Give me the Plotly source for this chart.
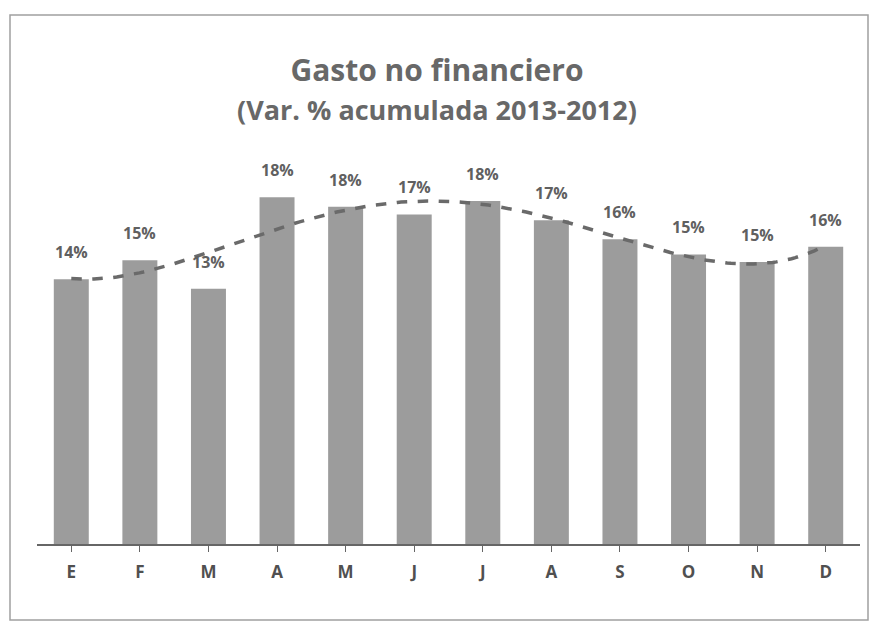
import numpy as np
import plotly.graph_objects as go

# Monthly accumulated variation (%)
months = ["E", "F", "M", "A", "M", "J", "J", "A", "S", "O", "N", "D"]
values = [13.9, 14.9, 13.4, 18.2, 17.7, 17.3, 18.0, 17.0, 16.0, 15.2, 14.8, 15.6]
labels = ["14%", "15%", "13%", "18%", "18%", "17%", "18%", "17%", "16%", "15%", "15%", "16%"]

W, H = 874, 629
L, R, T, B = 37, 14, 163, 85

x = np.arange(len(months))

# polynomial trend line (like Excel's trendline)
coef = np.polyfit(x, values, 4)
xs = np.linspace(0, len(months) - 1, 200)
trend = np.polyval(coef, xs)

fig = go.Figure()
fig.add_trace(go.Bar(
    x=x, y=values,
    marker=dict(color="#9c9c9c", line=dict(width=0)),
    width=0.51,
))
fig.add_trace(go.Scatter(
    x=xs, y=trend, mode="lines",
    line=dict(color="#6a6a6a", width=3.5, dash="dash"),
    hoverinfo="skip",
))

# data labels above the bars
for xi, v, t in zip(x, values, labels):
    fig.add_annotation(x=xi, y=v, text="<b>%s</b>" % t, showarrow=False,
                       yanchor="middle", yshift=27,
                       font=dict(family="Open Sans", size=16, color="#606060"))

# chart border, converted from pixels to paper coordinates
pw, ph = W - L - R, H - T - B
def px(v): return (v - L) / pw
def py(v): return (H - B - v) / ph
fig.add_shape(type="rect", xref="paper", yref="paper",
              x0=px(10), x1=px(868), y0=py(620), y1=py(15),
              line=dict(color="#a0a0a0", width=1.5))

fig.update_layout(
    width=W, height=H,
    margin=dict(l=L, r=R, t=T, b=B),
    paper_bgcolor="white", plot_bgcolor="white",
    showlegend=False,
    font=dict(family="Open Sans", color="#555555"),
    title=dict(
        text="<b>Gasto no financiero</b><br><b><span style='font-size:27px'>(Var. % acumulada 2013-2012)</span></b>",
        x=0.5, xanchor="center", y=0.872, yanchor="top",
        font=dict(size=30, color="#686868"),
    ),
)
fig.update_xaxes(
    tickvals=x, ticktext=["<b>%s</b>" % m for m in months],
    tickfont=dict(size=17, color="#505050"),
    ticklabelstandoff=6,
    range=[-0.5, len(months) - 0.5],
    showline=True, linecolor="#666666", linewidth=1.5,
    ticks="outside", tickson="boundaries", ticklen=6, tickcolor="#666666",
    showgrid=False, zeroline=False,
)
fig.update_yaxes(range=[0, 20], visible=False)

fig.write_html("out.html", config={"displayModeBar": False},
               post_script="document.body.style.margin='0';")
